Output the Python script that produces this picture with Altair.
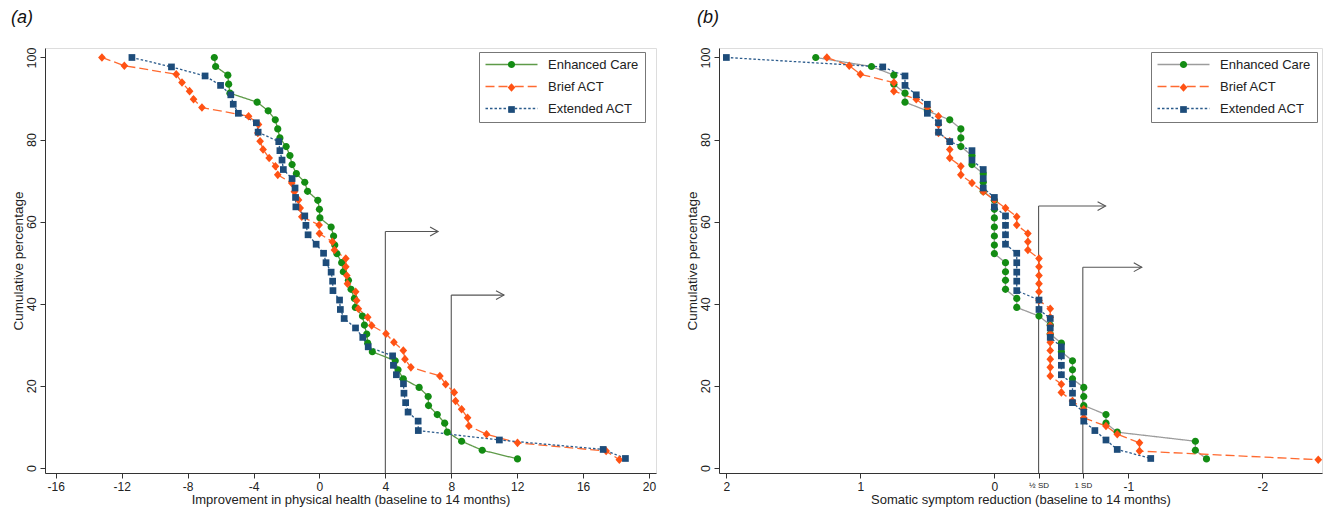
import altair as alt
import pandas as pd

FONT = "Liberation Sans"
SERIES = ["Enhanced Care", "Brief ACT", "Extended ACT"]
SERIES_PTS = [s + " " for s in SERIES]

# cumulative percentages
Y_EC = [100.0, 97.8, 95.7, 93.5, 91.3, 89.1, 87.0, 84.8, 82.6, 80.4,
        78.3, 76.1, 73.9, 71.7, 69.6, 67.4, 65.2, 63.0, 60.9, 58.7,
        56.5, 54.3, 52.2, 50.0, 47.8, 45.7, 43.5, 41.3, 39.1, 37.0,
        34.8, 32.6, 30.4, 28.3, 26.1, 23.9, 21.7, 19.6, 17.4, 15.2,
        13.0, 10.9, 8.7, 6.5, 4.3, 2.2]
Y_BRIEF = [100.0, 98.0, 95.9, 93.9, 91.8, 89.8, 87.8, 85.7, 83.7, 81.6,
           79.6, 77.6, 75.5, 73.5, 71.4, 69.4, 67.3, 65.3, 63.3, 61.2,
           59.2, 57.1, 55.1, 53.1, 51.0, 49.0, 46.9, 44.9, 42.9, 40.8,
           38.8, 36.7, 34.7, 32.7, 30.6, 28.6, 26.5, 24.5, 22.4, 20.4,
           18.4, 16.3, 14.3, 12.2, 10.2, 8.2, 6.1, 4.1, 2.0]
Y_EXT = [100.0, 97.7, 95.5, 93.2, 90.9, 88.6, 86.4, 84.1, 81.8, 79.5,
         77.3, 75.0, 72.7, 70.5, 68.2, 65.9, 63.6, 61.4, 59.1, 56.8,
         54.5, 52.3, 50.0, 47.7, 45.5, 43.2, 40.9, 38.6, 36.4, 34.1,
         31.8, 29.5, 27.3, 25.0, 22.7, 20.5, 18.2, 15.9, 13.6, 11.4,
         9.1, 6.8, 4.5, 2.3]

# (a) improvement in physical health
A_EC_X = [-6.38, -6.30, -5.56, -5.51, -5.43, -3.78, -3.11, -2.68, -2.53, -2.40,
          -2.02, -1.79, -1.66, -1.40, -0.89, -0.72, -0.10, 0.00, 0.03, 0.71,
          0.86, 0.93, 1.06, 1.35, 1.45, 1.76, 1.92, 2.12, 2.18, 2.61,
          2.73, 2.87, 2.93, 3.21, 4.60, 4.77, 5.09, 6.05, 6.60, 6.62,
          7.15, 7.60, 7.76, 8.63, 9.88, 12.02]
A_BRIEF_X = [-13.20, -11.84, -8.69, -8.34, -7.88, -7.64, -7.13, -4.30, -3.70, -3.74,
             -3.60, -3.42, -3.05, -2.67, -2.53, -1.68, -1.52, -1.27, -1.17, -1.07,
             -0.02, 0.00, 0.79, 0.91, 1.60, 1.60, 1.66, 1.70, 2.20, 2.26,
             2.36, 2.93, 3.17, 4.04, 4.52, 5.09, 5.19, 5.55, 7.31, 7.66,
             8.18, 8.26, 8.63, 8.99, 9.07, 10.14, 12.02, 17.40, 18.20]
A_EXT_X = [-11.38, -8.98, -6.94, -6.00, -5.38, -5.23, -4.92, -3.83, -3.72, -2.47,
           -2.40, -2.27, -2.19, -1.66, -1.48, -1.45, -1.43, -0.89, -0.82, -0.69,
           -0.20, 0.25, 0.40, 0.71, 0.80, 0.82, 1.22, 1.27, 1.50, 2.19,
           2.63, 2.96, 4.44, 4.49, 4.67, 5.10, 5.13, 5.23, 5.38, 5.99,
           6.00, 10.92, 17.22, 18.57]

# (b) somatic symptom reduction
B_EC_X = [1.333, 0.917, 0.75, 0.75, 0.667, 0.667, 0.5, 0.333, 0.25, 0.25,
          0.25, 0.167, 0.167, 0.083, 0.083, 0.083, 0.0, 0.0, 0.0, 0.0,
          0.0, 0.0, 0.0, -0.083, -0.083, -0.083, -0.083, -0.167, -0.167, -0.333,
          -0.417, -0.417, -0.5, -0.5, -0.583, -0.583, -0.583, -0.667, -0.667, -0.667,
          -0.833, -0.833, -0.917, -1.5, -1.5, -1.583]
B_BRIEF_X = [1.25, 1.083, 1.0, 0.75, 0.75, 0.583, 0.5, 0.417, 0.417, 0.417,
             0.333, 0.333, 0.333, 0.25, 0.25, 0.167, 0.083, 0.0, -0.083, -0.167,
             -0.167, -0.25, -0.25, -0.25, -0.333, -0.333, -0.333, -0.333, -0.333, -0.333,
             -0.417, -0.417, -0.417, -0.417, -0.417, -0.417, -0.417, -0.417, -0.417, -0.5,
             -0.5, -0.583, -0.667, -0.667, -0.833, -0.917, -1.083, -1.083, -2.417]
B_EXT_X = [2.0, 0.833, 0.667, 0.667, 0.583, 0.5, 0.5, 0.417, 0.417, 0.333,
           0.167, 0.167, 0.083, 0.083, 0.083, 0.0, 0.0, -0.083, -0.083, -0.083,
           -0.083, -0.167, -0.167, -0.167, -0.167, -0.167, -0.333, -0.333, -0.417, -0.417,
           -0.417, -0.5, -0.5, -0.5, -0.5, -0.583, -0.583, -0.583, -0.667, -0.667,
           -0.75, -0.833, -0.917, -1.167]

A_XTICKS = [-16, -12, -8, -4, 0, 4, 8, 12, 16, 20]
B_XTICKS = [2, 1, 0, -0.33, -0.66, -1, -2]
Y_TICKS = [0, 20, 40, 60, 80, 100]

# threshold lines with arrows
A_REF_X = [4, 8]
A_REF_TOP = [57.6, 42.1]
A_ARROW_END = [7.2, 11.2]
B_REF_X = [-0.33, -0.66]
B_REF_TOP = [63.8, 48.9]
B_ARROW_END = [-0.83, -1.10]

A_XDOMAIN = [-16.655, 20.425]
B_XDOMAIN = [-2.445, 2.055]
Y_DOMAIN = [-1.24, 102.31]

MARKER_COLORS = ["#138c13", "#ff5214", "#1d4c7a"]
A_LINE_COLORS = ["#5e9a48", "#ff6a30", "#2b5b8c"]
B_LINE_COLORS = ["#9c9c9c", "#ff6a30", "#2b5b8c"]
DASHES = [[1, 0], [9, 4], [2.5, 2]]

PT_SIZE = 64  # unit paths scaled by sqrt(size)/2 = 4 px
SHAPES = [
    "M-0.9,0A0.9,0.9,0,1,1,0.9,0A0.9,0.9,0,1,1,-0.9,0Z",
    "M0,-1.07L0.96,0L0,1.07L-0.96,0Z",
    "M-0.84,-0.84L0.84,-0.84L0.84,0.84L-0.84,0.84Z",
]
LINE_SYMBOL = "M-6.5,0L-0.8,0M0.8,0L6.5,0"
CHEVRON = "M-1,-0.55L0,0L-1,0.55"

AX = dict(labelFont=FONT, titleFont=FONT, labelColor="#222", titleColor="#222",
          domainColor="#333", tickColor="#333", grid=False, titleFontWeight="normal")


def make_df(xs_list):
    rows = []
    for name, pname, xs, ys in zip(SERIES, SERIES_PTS, xs_list, [Y_EC, Y_BRIEF, Y_EXT]):
        assert len(xs) == len(ys)
        for x, y in zip(xs, ys):
            rows.append({"x": x, "y": y, "s": name, "p": pname})
    return pd.DataFrame(rows)


def panel(xs_list, line_colors, xdom, xrev, xticks, xtitle, label_expr, label_size,
          ref_x, ref_top, arrow_end, lx, ly, title, title_dx, width):
    df = make_df(xs_list)
    xscale = alt.Scale(domain=xdom, reverse=xrev, nice=False, zero=False)
    yscale = alt.Scale(domain=Y_DOMAIN, nice=False, zero=False)
    xaxis = alt.Axis(values=xticks, title=xtitle, labelExpr=label_expr, tickSize=5,
                     labelFontSize=label_size, labelPadding=3, titlePadding=1,
                     titleFontSize=13, **AX)
    yaxis = alt.Axis(values=Y_TICKS, title="Cumulative percentage", labelAngle=270,
                     labelAlign="center", labelBaseline="bottom", labelFontSize=12.5,
                     tickSize=5, labelPadding=2, titlePadding=0, titleFontSize=13.5, **AX)
    X = alt.X("x:Q", scale=xscale, axis=xaxis)
    Y = alt.Y("y:Q", scale=yscale, axis=yaxis)

    common = dict(title=None, orient="none", legendX=lx, legendY=ly,
                  symbolSize=PT_SIZE, symbolStrokeWidth=1.3, symbolOffset=20,
                  labelFont=FONT, labelFontSize=13, labelOffset=30, padding=6,
                  rowPadding=8, labelColor="#222")
    leg1 = alt.Legend(symbolType=LINE_SYMBOL, symbolFillColor="transparent",
                      strokeColor="#777", **common)
    leg2 = alt.Legend(symbolStrokeColor="transparent", strokeColor="transparent",
                      labelOpacity=0, **common)

    ref_df = pd.DataFrame({"x": ref_x, "y": [Y_DOMAIN[0]] * len(ref_x),
                           "y2": ref_top, "x2": arrow_end})
    vlines = alt.Chart(ref_df).mark_rule(color="#555", strokeWidth=1.1).encode(
        x=X, y=Y, y2="y2:Q")
    hlines = alt.Chart(ref_df).mark_rule(color="#555", strokeWidth=1.1).encode(
        x=X, x2="x2:Q", y=alt.Y("y2:Q", scale=yscale, axis=yaxis))
    heads = alt.Chart(ref_df).mark_point(shape=CHEVRON, size=256, filled=False,
                                         color="#555", strokeWidth=1.1, opacity=1).encode(
        x=alt.X("x2:Q", scale=xscale, axis=xaxis), y=alt.Y("y2:Q", scale=yscale, axis=yaxis))

    lines = alt.Chart(df).mark_line(strokeWidth=1.3).encode(
        x=X, y=Y,
        stroke=alt.Stroke("s:N", scale=alt.Scale(domain=SERIES, range=line_colors), legend=leg1),
        strokeDash=alt.StrokeDash("s:N", scale=alt.Scale(domain=SERIES, range=DASHES), legend=leg1),
        order=alt.Order("y:Q", sort="descending"),
    )
    points = alt.Chart(df).mark_point(filled=True, size=PT_SIZE, opacity=1, strokeWidth=0).encode(
        x=X, y=Y,
        fill=alt.Fill("p:N", scale=alt.Scale(domain=SERIES_PTS, range=MARKER_COLORS), legend=leg2),
        shape=alt.Shape("p:N", scale=alt.Scale(domain=SERIES_PTS, range=SHAPES), legend=leg2),
    )
    return alt.layer(vlines, hlines, heads, lines, points).properties(
        width=width, height=425,
        title=alt.TitleParams(title, anchor="start", font=FONT, fontSize=18,
                              fontStyle="italic", fontWeight="normal", color="#111",
                              dx=title_dx, offset=20),
    )


left = panel([A_EC_X, A_BRIEF_X, A_EXT_X], A_LINE_COLORS, A_XDOMAIN, False, A_XTICKS,
             "Improvement in physical health (baseline to 14 months)",
             "'' + datum.value", 12, A_REF_X, A_REF_TOP, A_ARROW_END, 434, 4, "(a)", 0, 611)

right = panel([B_EC_X, B_BRIEF_X, B_EXT_X], B_LINE_COLORS, B_XDOMAIN, True, B_XTICKS,
              "Somatic symptom reduction (baseline to 14 months)",
              "datum.value == -0.33 ? '\u00bd SD' : (datum.value == -0.66 ? '1 SD' : '' + datum.value)",
              {"condition": {"test": "datum.value < -0.3 && datum.value > -0.7", "value": 8},
               "value": 12},
              B_REF_X, B_REF_TOP, B_ARROW_END, 432, 4, "(b)", 12, 603)

chart = alt.hconcat(left, right, spacing=27).resolve_scale(
    stroke="independent", strokeDash="independent", fill="independent",
    shape="independent", x="independent", y="independent",
).resolve_legend(
    stroke="independent", strokeDash="independent", fill="independent", shape="independent"
).properties(
    padding={"left": 2, "top": 0, "right": 0, "bottom": 0}
).configure_view(stroke="#777", strokeWidth=1).configure(background="white")

chart.save("out.html", embed_options={"renderer": "svg", "actions": False})
